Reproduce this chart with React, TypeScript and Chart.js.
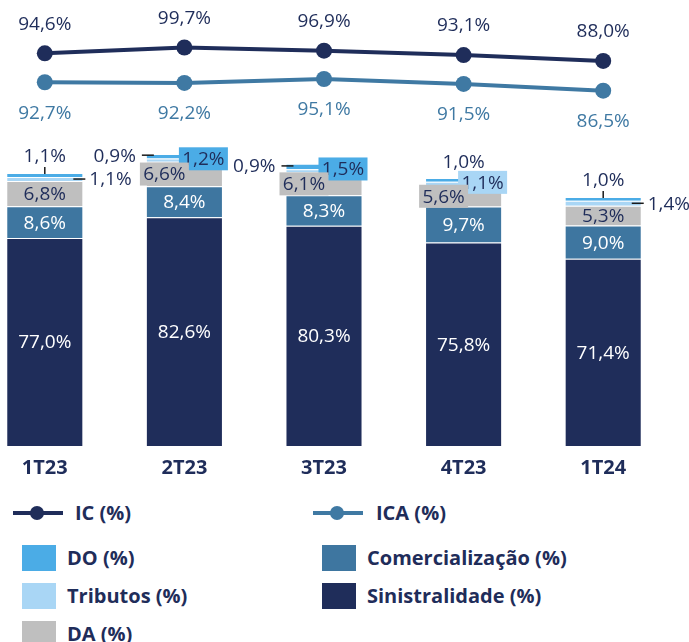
import React, { useEffect, useRef } from 'react';
import { Chart, registerables } from 'chart.js';
Chart.register(...registerables);

// ---- data ----
const categories = ['1T23', '2T23', '3T23', '4T23', '1T24'];
const sinistralidade = [77.0, 82.6, 80.3, 75.8, 71.4];
const comercializacao = [8.6, 8.4, 8.3, 9.7, 9.0];
const da = [6.8, 6.6, 6.1, 5.6, 5.3];
const tributos = [1.1, 0.9, 0.9, 1.1, 1.4];
const despOp = [1.1, 1.2, 1.5, 1.0, 1.0];
const ic = [94.6, 99.7, 96.9, 93.1, 88.0];
const ica = [92.7, 92.2, 95.1, 91.5, 86.5];

// ---- label placements (per series, per category) ----
const placeDO = ['above', 'boxR', 'boxR', 'above', 'above'];
const placeTrib = ['right', 'left', 'left', 'boxR', 'right'];
const placeDA = ['center', 'boxL', 'boxL', 'boxL', 'center'];
const placeCom = ['center', 'center', 'center', 'center', 'center'];
const placeSin = ['center', 'center', 'center', 'center', 'center'];

const NAVY = '#1F2D5A';
const STEEL = '#3E76A0';
const ICA_COLOR = '#3F79A3';
const GRAY = '#BFBFBF';
const LIGHT = '#A9D6F5';
const BLUE = '#4BACE6';
const FONT = '"Open Sans", sans-serif';

const fmt = (v: number) => v.toFixed(1).replace('.', ',') + '%';

const labelPlugin = {
  id: 'customLabels',
  afterDatasetsDraw(chart: any) {
    const ctx = chart.ctx as CanvasRenderingContext2D;
    const bottom = chart.chartArea.bottom;
    ctx.save();
    ctx.font = `19px ${FONT}`;
    ctx.textBaseline = 'middle';
    ctx.lineWidth = 1.5;
    ctx.strokeStyle = '#1a1a1a';
    const order = [4, 3, 2, 1, 0];
    for (const di of order) {
      const ds = chart.data.datasets[di];
      const meta = chart.getDatasetMeta(di);
      const places: string[] = ds.labelPlaces;
      meta.data.forEach((el: any, j: number) => {
        const x = el.x, y = el.y, w = el.width;
        const base = Math.min(el.base, bottom);
        const txt = fmt(ds.data[j]);
        const cy = (y + base) / 2;
        const left = x - w / 2, right = x + w / 2;
        const p = places[j];
        ctx.fillStyle = ds.labelColor;
        if (p === 'center') {
          ctx.textAlign = 'center';
          ctx.fillText(txt, x, cy + 1);
        } else if (p === 'above') {
          ctx.beginPath();
          ctx.moveTo(x, y - 6);
          ctx.lineTo(x, y + 1);
          ctx.stroke();
          ctx.textAlign = 'center';
          ctx.fillStyle = NAVY;
          ctx.fillText(txt, x, y - 16);
        } else if (p === 'right') {
          ctx.beginPath();
          ctx.moveTo(right - 10, cy);
          ctx.lineTo(right + 2, cy);
          ctx.stroke();
          ctx.textAlign = 'left';
          ctx.fillStyle = NAVY;
          ctx.fillText(txt, right + 6, cy + 1);
        } else if (p === 'left') {
          ctx.beginPath();
          ctx.moveTo(left - 4, cy - 5);
          ctx.lineTo(left + 8, cy - 5);
          ctx.stroke();
          ctx.textAlign = 'right';
          ctx.fillStyle = NAVY;
          ctx.fillText(txt, left - 10, cy - 4);
        } else if (p === 'boxR' || p === 'boxL') {
          const bx = p === 'boxR' ? x + 19 : x - 20;
          const by = p === 'boxR' ? (di === 4 ? cy + 2.5 : cy - 1.5) : cy;
          const bw = 49, bh = 23;
          ctx.fillStyle = ds.backgroundColor;
          ctx.fillRect(bx - bw / 2, by - bh / 2, bw, bh);
          ctx.textAlign = 'center';
          ctx.fillStyle = NAVY;
          ctx.fillText(txt, bx, by + 1);
        }
      });
    }
    // line labels
    for (const di of [5, 6]) {
      const ds = chart.data.datasets[di];
      const meta = chart.getDatasetMeta(di);
      meta.data.forEach((el: any, j: number) => {
        ctx.textAlign = 'center';
        ctx.fillStyle = ds.borderColor;
        const dy = di === 5 ? -30 : 30;
        ctx.fillText(fmt(ds.data[j]), el.x, el.y + dy + 1);
      });
    }
    ctx.restore();
  },
};

export default function App() {
  const ref = useRef<HTMLCanvasElement>(null);
  useEffect(() => {
    if (!ref.current) return;
    const mkBar = (label: string, data: number[], color: string, labelColor: string, places: string[]) => ({
      type: 'bar' as const,
      label,
      data,
      backgroundColor: color,
      borderColor: 'rgba(255,255,255,0.45)',
      borderWidth: 1,
      barPercentage: 0.552,
      categoryPercentage: 1,
      yAxisID: 'y',
      order: 2,
      labelColor,
      labelPlaces: places,
    });
    const chart = new Chart(ref.current, {
      data: {
        labels: categories,
        datasets: [
          mkBar('Sinistralidade (%)', sinistralidade, NAVY, '#ffffff', placeSin),
          mkBar('Comercialização (%)', comercializacao, STEEL, '#ffffff', placeCom),
          mkBar('DA (%)', da, GRAY, NAVY, placeDA),
          mkBar('Tributos (%)', tributos, LIGHT, NAVY, placeTrib),
          mkBar('DO (%)', despOp, BLUE, NAVY, placeDO),
          {
            type: 'line' as const,
            label: 'IC (%)',
            data: ic,
            borderColor: NAVY,
            backgroundColor: NAVY,
            borderWidth: 4,
            pointRadius: 8,
            pointHoverRadius: 8,
            pointBackgroundColor: NAVY,
            pointBorderWidth: 0,
            tension: 0,
            yAxisID: 'yIC',
            order: 0,
          },
          {
            type: 'line' as const,
            label: 'ICA (%)',
            data: ica,
            borderColor: ICA_COLOR,
            backgroundColor: ICA_COLOR,
            borderWidth: 4,
            pointRadius: 8,
            pointHoverRadius: 8,
            pointBackgroundColor: ICA_COLOR,
            pointBorderWidth: 0,
            tension: 0,
            yAxisID: 'yICA',
            order: 1,
          },
        ] as any,
      },
      options: {
        responsive: false,
        animation: false,
        layout: { autoPadding: false, padding: { top: 10, left: 0, right: 22, bottom: 0 } },
        plugins: { legend: { display: false }, tooltip: { enabled: false } },
        scales: {
          x: {
            stacked: true,
            grid: { display: false },
            border: { display: false },
            ticks: {
              color: NAVY,
              font: { family: FONT, size: 20, weight: 'bold' },
              padding: 2,
              maxRotation: 0,
              autoSkip: false,
            },
            afterFit: (axis: any) => {
              axis.height = 40;
            },
          },
          y: { stacked: true, display: false, min: 20.8, max: 138.64 },
          yIC: { display: false, min: -246.8, max: 132.3 },
          yICA: { display: false, min: -174.75, max: 145.84 },
        },
      } as any,
      plugins: [labelPlugin],
    });
    return () => chart.destroy();
  }, []);

  const text = (label: string, left: number, cy: number) => (
    <div
      style={{
        position: 'absolute',
        left,
        top: cy - 15,
        height: 30,
        lineHeight: '30px',
        fontFamily: FONT,
        fontWeight: 700,
        fontSize: 20,
        color: NAVY,
        whiteSpace: 'nowrap',
      }}
    >
      {label}
    </div>
  );
  const lineSym = (left: number, cy: number, color: string) => (
    <>
      <div style={{ position: 'absolute', left, top: cy - 2, width: 50, height: 4, background: color }} />
      <div
        style={{
          position: 'absolute',
          left: left + 24 - 7,
          top: cy - 7,
          width: 14,
          height: 14,
          borderRadius: '50%',
          background: color,
        }}
      />
    </>
  );
  const sq = (left: number, top: number, color: string) => (
    <div style={{ position: 'absolute', left, top, width: 34, height: 26, background: color }} />
  );

  return (
    <div style={{ position: 'absolute', left: 0, top: 0, width: 689, height: 642, overflow: 'hidden', background: '#fff' }}>
      <canvas
        ref={ref}
        width={720}
        height={486}
        style={{ position: 'absolute', left: -25, top: 0, width: 720, height: 486 }}
      />
      {lineSym(13, 513, NAVY)}
      {text('IC (%)', 75, 513)}
      {lineSym(313, 513, ICA_COLOR)}
      {text('ICA (%)', 376, 513)}
      {sq(22, 545, BLUE)}
      {text('DO (%)', 67, 558)}
      {sq(22, 583, LIGHT)}
      {text('Tributos (%)', 67, 596)}
      {sq(22, 621, GRAY)}
      {text('DA (%)', 67, 634)}
      {sq(322, 545, STEEL)}
      {text('Comercialização (%)', 367, 558)}
      {sq(322, 583, NAVY)}
      {text('Sinistralidade (%)', 367, 596)}
    </div>
  );
}
